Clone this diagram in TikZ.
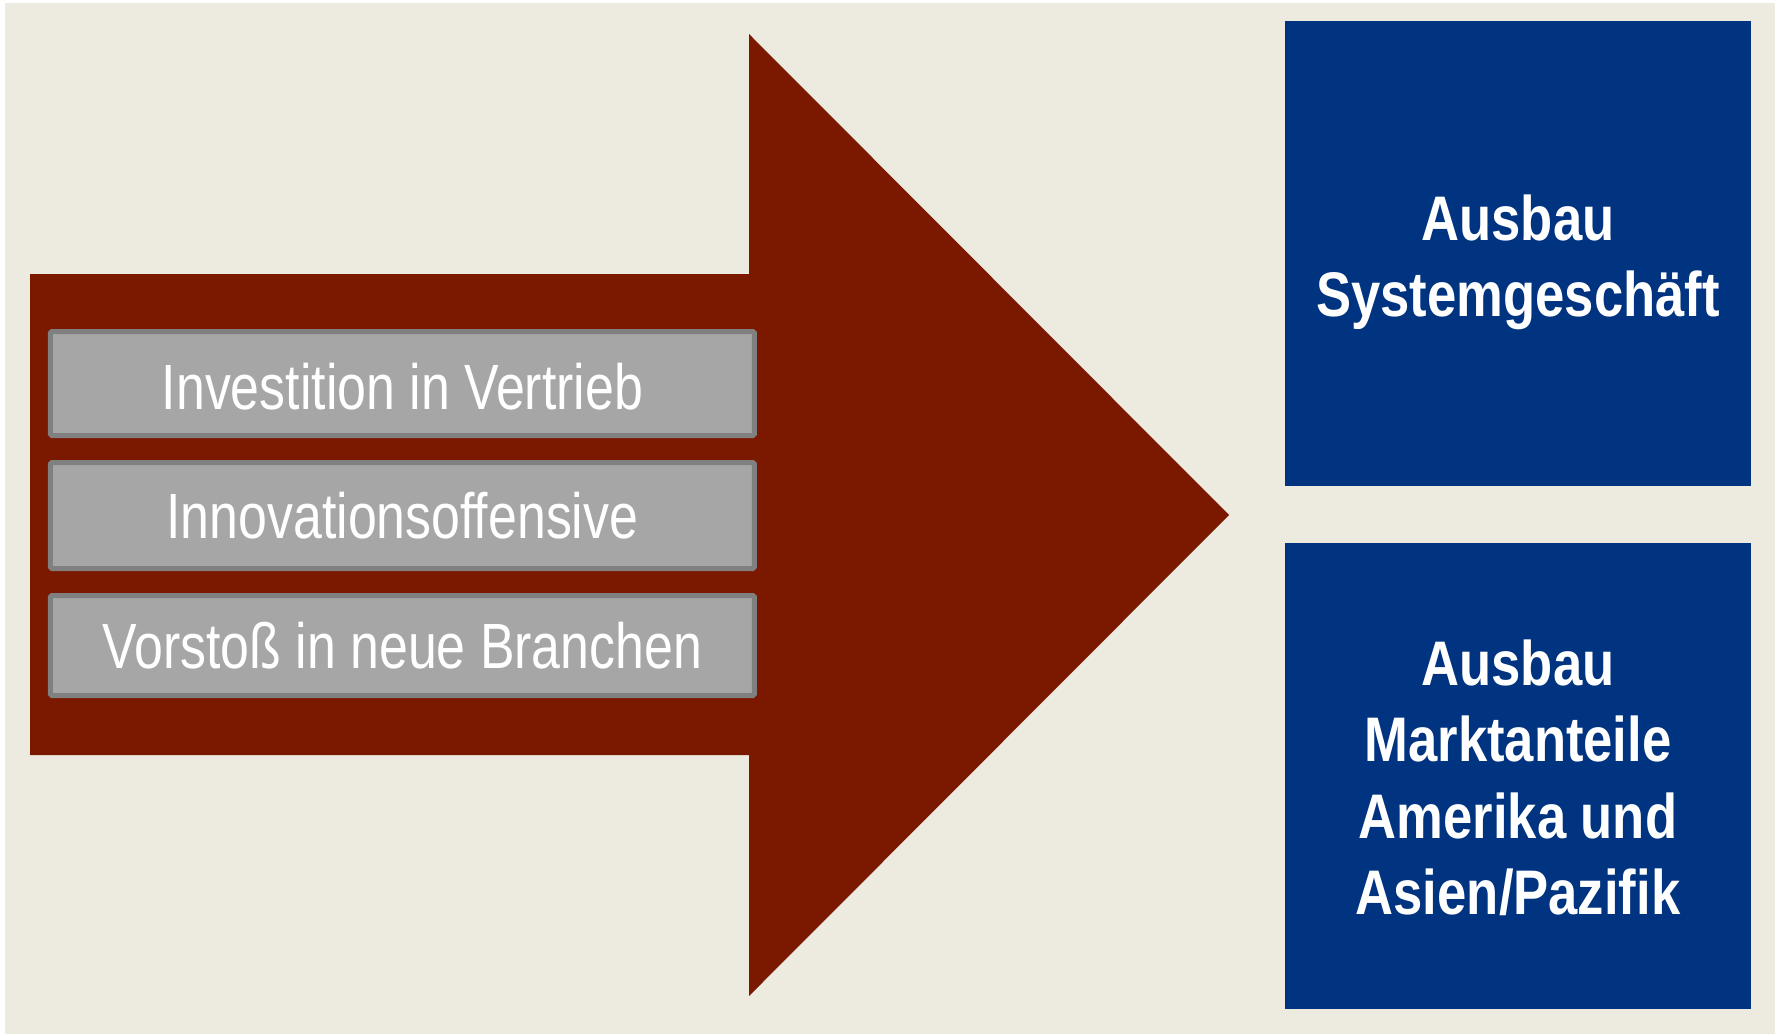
\documentclass[tikz,border=0pt]{standalone}
\usepackage{fontspec}
\newfontfamily\narrowfont{Liberation Sans}[FakeStretch=0.81]
\newfontfamily\narrowbold{Liberation Sans Bold}[FakeStretch=0.835]
\definecolor{paper}{HTML}{EDEAE0}
\definecolor{arrowred}{HTML}{7A1900}
\definecolor{navy}{HTML}{003380}
\definecolor{boxgray}{HTML}{A6A6A6}
\definecolor{edgegray}{HTML}{808080}
\begin{document}
\begin{tikzpicture}[x=1pt,y=-1pt,
  measure/.style={draw=edgegray,line width=5pt,fill=boxgray,rounded corners=1.5pt,
    minimum width=704pt,inner sep=0pt,text=white,
    font=\narrowfont\fontsize{64}{76}\selectfont},
  goal/.style={fill=navy,minimum width=466pt,minimum height=465pt,inner sep=0pt},
  goaltext/.style={text=white,align=center,inner sep=0pt,
    font=\narrowbold\fontsize{63}{76.5}\selectfont}]
\useasboundingbox (0,0) rectangle (1779,1034);
% background panel
\fill[paper] (5,3) rectangle (1775,1034);
% large arrow
\fill[arrowred] (30,274) -- (749,274) -- (749,34) -- (1229,515)
  -- (749,996) -- (749,755) -- (30,755) -- cycle;
% measures on the arrow shaft
\node[measure,minimum height=104pt,text height=52pt,text depth=0pt] (m1) at (402.4,383.5) {Investition in Vertrieb};
\node[measure,minimum height=106pt] (m2) at (402.4,515.5) {Innovationsoffensive};
\node[measure,minimum height=100pt] (m3) at (402.4,645.5) {Vorstoß in neue Branchen};
% goals
\node[goal] (g1) at (1518,253.5) {};
\node[goal,minimum height=466pt] (g2) at (1518,776) {};
\node[goaltext] (g1t) at ([yshift=-9pt]g1.center) {Ausbau\\Systemgeschäft};
\node[goaltext] (g2t) at ([yshift=-2pt]g2.center) {Ausbau\\Marktanteile\\Amerika und\\Asien/Pazifik};
\end{tikzpicture}
\end{document}
